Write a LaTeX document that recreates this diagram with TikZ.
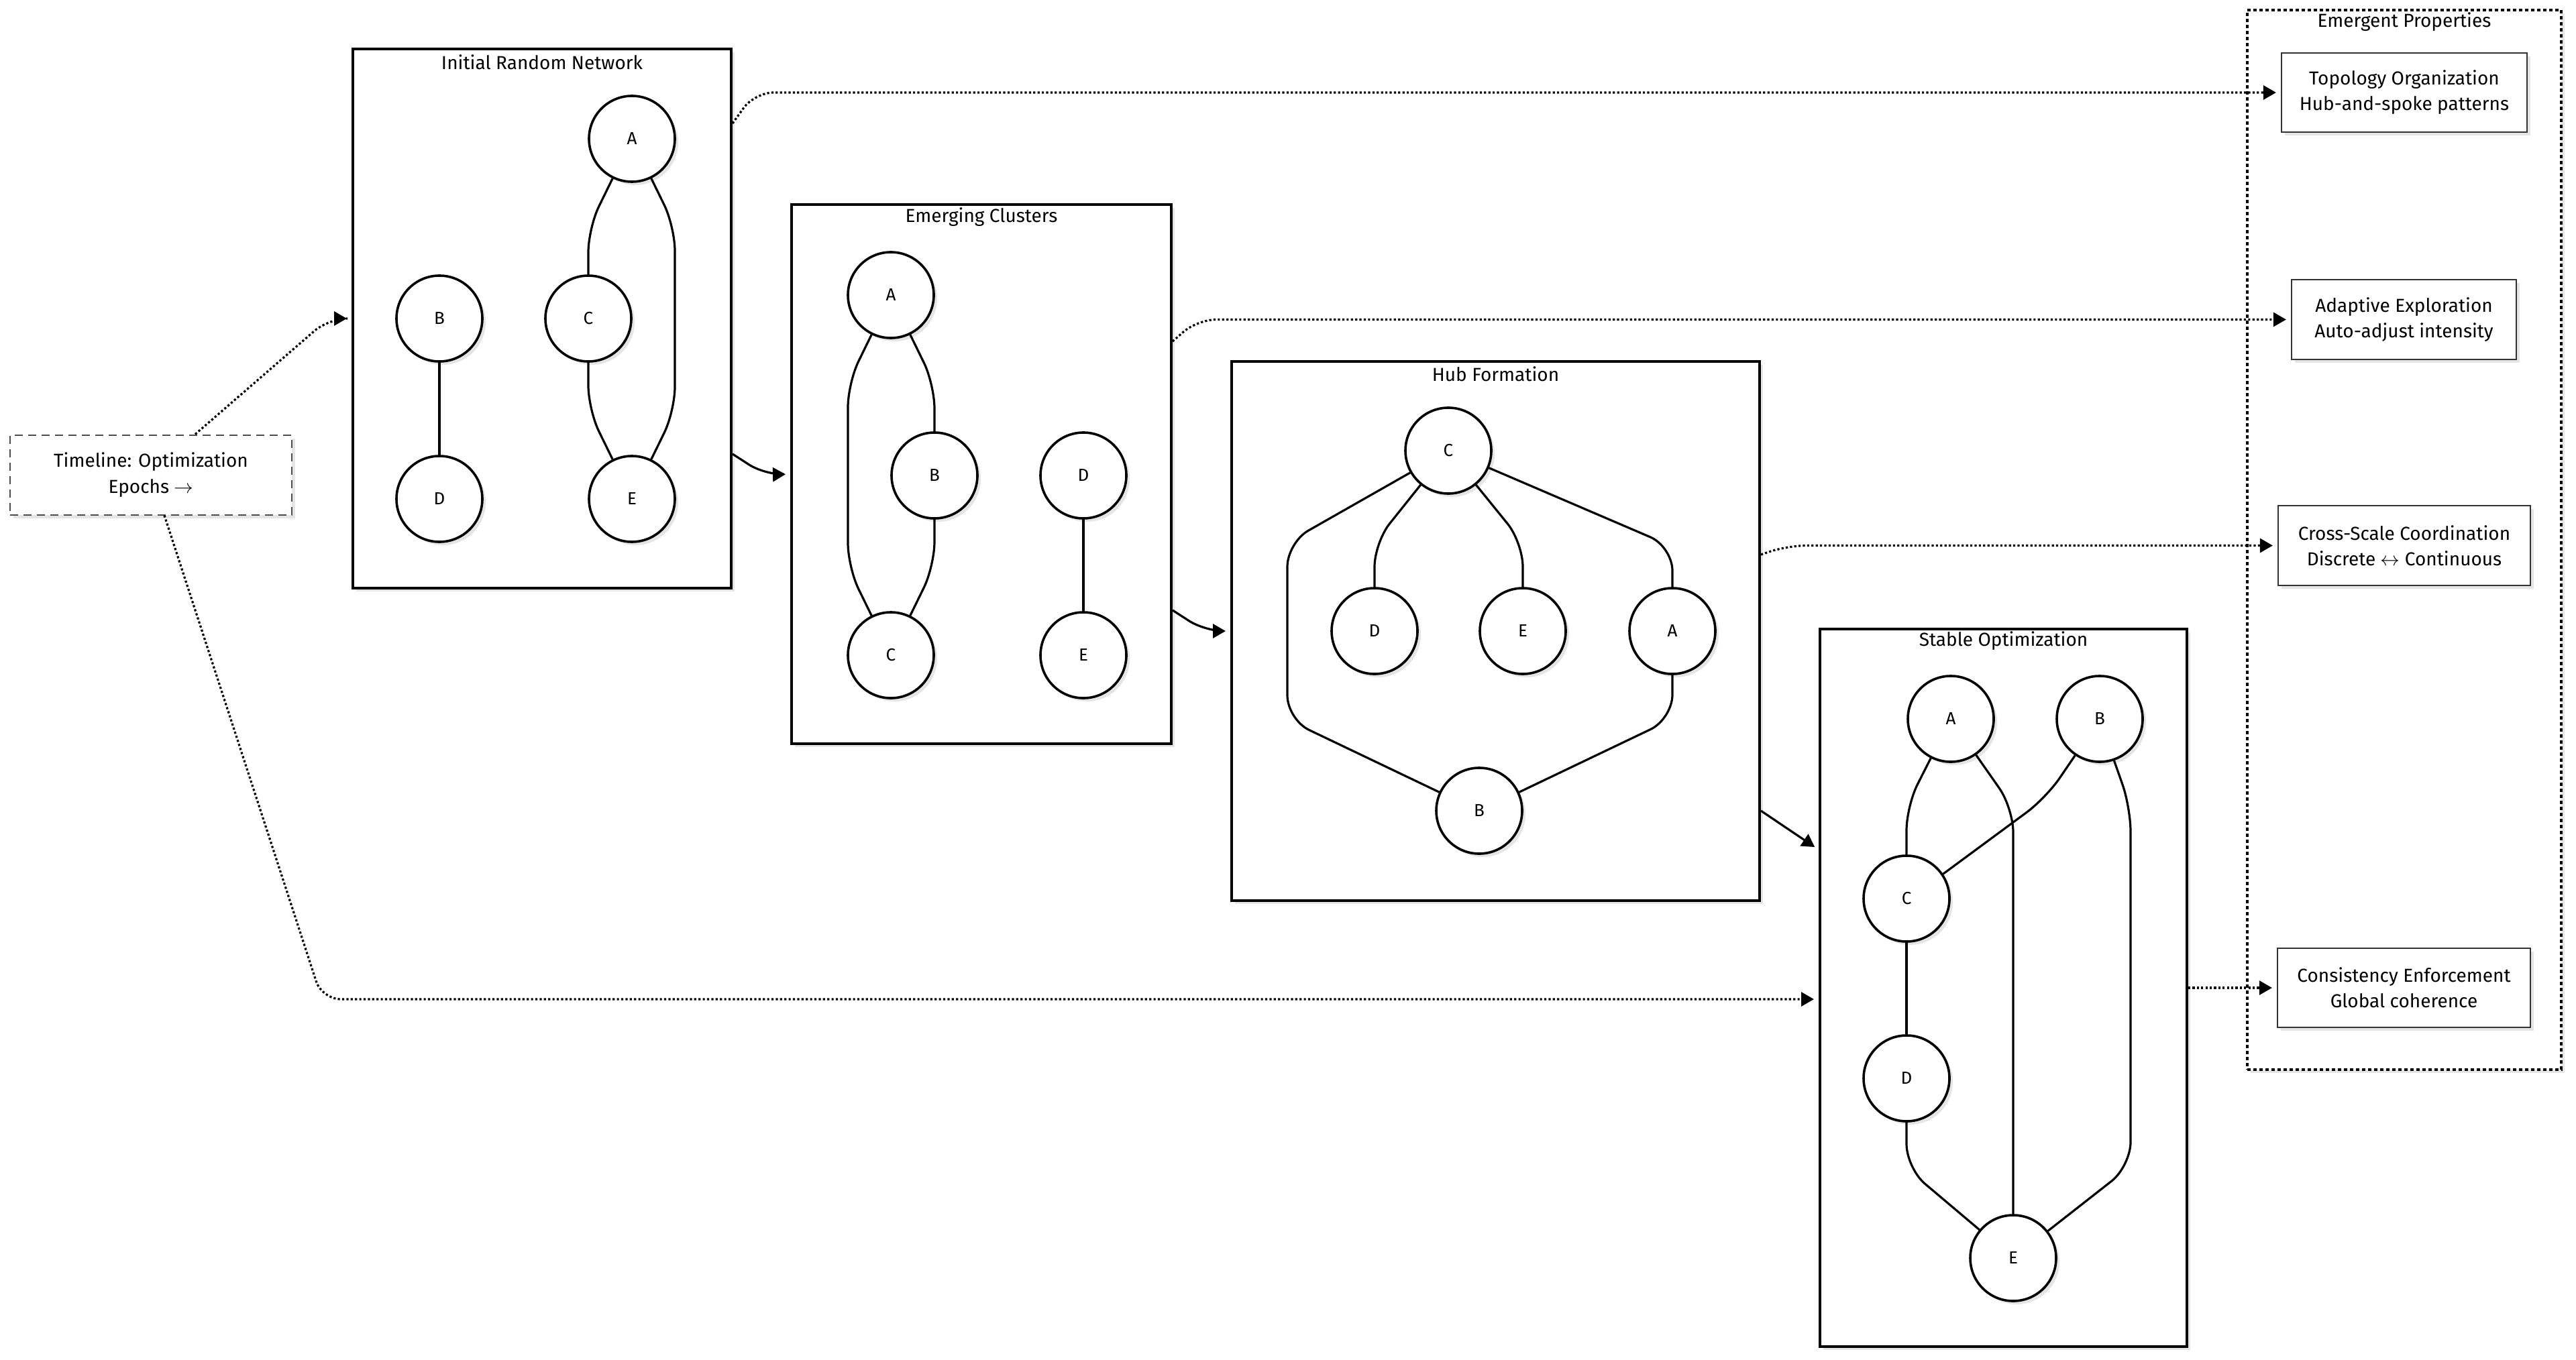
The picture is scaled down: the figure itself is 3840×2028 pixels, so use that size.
\documentclass[tikz,border=0pt]{standalone}
\usepackage{fontspec}
\setmainfont{Fira Sans}
\usetikzlibrary{arrows.meta,shadows}
\begin{document}
\begin{tikzpicture}[x=0.5pt,y=-0.5pt]
\tikzset{
 shad/.style={drop shadow={shadow xshift=2.5pt,shadow yshift=-2.5pt,fill=black!10,opacity=1}},
 container/.style={draw, line width=2pt, fill=white, rectangle, inner sep=0pt, shad},
 ttl/.style={font=\fontsize{14}{16}\selectfont, inner sep=0pt},
 nd/.style={circle, draw, line width=1.8pt, fill=white, minimum size=64pt, inner sep=0pt, font=\fontsize{13}{15}\selectfont, shad},
 lnk/.style={line width=1.6pt, rounded corners=18pt},
 flow/.style={-{Triangle[length=9.5pt,width=10.5pt]}, line width=1.6pt, rounded corners=14pt, shorten >=3.5pt},
 dflow/.style={flow, dash pattern=on 1.6pt off 1.6pt},
 prop/.style={draw=black!80, line width=1.1pt, fill=white, rectangle, inner sep=0pt, align=center, font=\fontsize{14}{19}\selectfont, shad},
}
\path[use as bounding box, fill=white] (0,0) rectangle (3840,2028);

% containers
\node[draw, line width=2pt, dash pattern=on 2.5pt off 2pt, fill=white, rectangle, inner sep=0pt, shad,
      minimum width=234pt, minimum height=790pt] (emg) at (3584,805) {};
\node[ttl] (emgt) at (3584,33) {Emergent Properties};

\node[container, minimum width=282pt, minimum height=402pt] (box1) at (808,475) {};
\node[ttl] (t1) at (808,93) {Initial Random Network};
\node[container, minimum width=283pt, minimum height=402pt] (box2) at (1463,707) {};
\node[ttl] (t2) at (1463,324) {Emerging Clusters};
\node[container, minimum width=393.5pt, minimum height=402pt] (box3) at (2229.5,941) {};
\node[ttl] (t3) at (2229.5,558) {Hub Formation};
\node[container, minimum width=273.5pt, minimum height=535pt] (box4) at (2986.5,1473) {};
\node[ttl] (t4) at (2986.5,956) {Stable Optimization};

% timeline
\node[draw=black!70, line width=1pt, dash pattern=on 6pt off 4pt, fill=white, rectangle, inner sep=0pt, shad,
      minimum width=210pt, minimum height=59.5pt, align=center, font=\fontsize{14}{19.5}\selectfont]
      (tl) at (225,708) {Timeline: Optimization\\Epochs $\rightarrow$};

% property boxes
\node[prop, minimum width=183pt, minimum height=59pt] (topo) at (3584,138) {Topology Organization\\Hub-and-spoke patterns};
\node[prop, minimum width=167.5pt, minimum height=59.5pt] (adapt) at (3583.5,476.5) {Adaptive Exploration\\Auto-adjust intensity};
\node[prop, minimum width=188pt, minimum height=59.5pt] (cross) at (3584,813.5) {Cross-Scale Coordination\\Discrete $\leftrightarrow$ Continuous};
\node[prop, minimum width=188.5pt, minimum height=59pt] (cons) at (3583.5,1473) {Consistency Enforcement\\Global coherence};

% flows
\draw[dflow] ([xshift=33pt]tl.north) -- (490,475) -- (box1.west);
\draw[dflow] ([xshift=10pt]tl.south) -- (480,1490) -- ([yshift=-8.5pt]box4.west);
\draw[flow] ([yshift=-101pt]box1.east) -- (1140,708) -- (box2.west);
\draw[flow] ([yshift=-101.5pt]box2.east) -- (1796,941) -- (box3.west);
\draw[flow] ([yshift=-134pt]box3.east) -- ([yshift=103pt]box4.west);
\draw[dflow] ([yshift=145.5pt]box1.east) -- (1125,138) -- (topo.west);
\draw[dflow] ([yshift=99pt]box2.east) -- (1785,476.5) -- (adapt.west);
\draw[dflow] ([yshift=57pt]box3.east) -- (2665,813.5) -- (cross.west);
\draw[dflow] (box4.east) -- (cons.west);

% box 1 nodes
\node[nd] (a1) at (942,207) {A};
\node[nd] (b1) at (655,475) {B};
\node[nd] (c1) at (877,475) {C};
\node[nd] (d1) at (655,744) {D};
\node[nd] (e1) at (942,744) {E};
\draw[lnk] (b1) -- (d1);
\draw[lnk] (a1.244) -- (877,340) -- (c1.north);
\draw[lnk] (a1.296) -- (1006,338) -- (1006,613) -- (e1.64);
\draw[lnk] (c1.south) -- (877,611) -- (e1.116);

% box 2 nodes
\node[nd] (a2) at (1328,440) {A};
\node[nd] (b2) at (1393,709) {B};
\node[nd] (c2) at (1328,977) {C};
\node[nd] (d2) at (1615,709) {D};
\node[nd] (e2) at (1615,977) {E};
\draw[lnk] (d2) -- (e2);
\draw[lnk] (a2.244) -- (1264,571) -- (1264,846) -- (c2.116);
\draw[lnk] (a2.296) -- (1393,573) -- (b2.north);
\draw[lnk] (b2.south) -- (1393,844) -- (c2.64);

% box 3 nodes
\node[nd] (c3) at (2159,672) {C};
\node[nd] (d3) at (2049,941) {D};
\node[nd] (e3) at (2270,941) {E};
\node[nd] (a3) at (2493,941) {A};
\node[nd] (b3) at (2205,1209) {B};
\draw[lnk] (c3.231) -- (2049,809) -- (d3.north);
\draw[lnk] (c3.309) -- (2270,809) -- (e3.north);
\draw[lnk] (c3.337) -- (2493,815) -- (a3.north);
\draw[lnk] (c3.210) -- (1919,809) -- (1919,1073) -- (b3.155);
\draw[lnk] (a3.south) -- (2493,1072) -- (b3.25);

% box 4 nodes
\node[nd] (a4) at (2908,1072) {A};
\node[nd] (b4) at (3130,1072) {B};
\node[nd] (c4) at (2842,1340) {C};
\node[nd] (d4) at (2842,1608) {D};
\node[nd] (e4) at (3001,1876) {E};
\draw[lnk] (c4) -- (d4);
\draw[lnk] (a4.243) -- (2842,1202) -- (c4.north);
\draw[lnk] (a4.305) -- (3001,1205) -- (e4.north);
\draw[lnk] (b4.236) -- (3050,1190) -- (c4.34);
\draw[lnk] (b4.289) -- (3176,1204) -- (3176,1739) -- (e4.38);
\draw[lnk] (d4.south) -- (2842,1742) -- (e4.140);
\end{tikzpicture}
\end{document}
